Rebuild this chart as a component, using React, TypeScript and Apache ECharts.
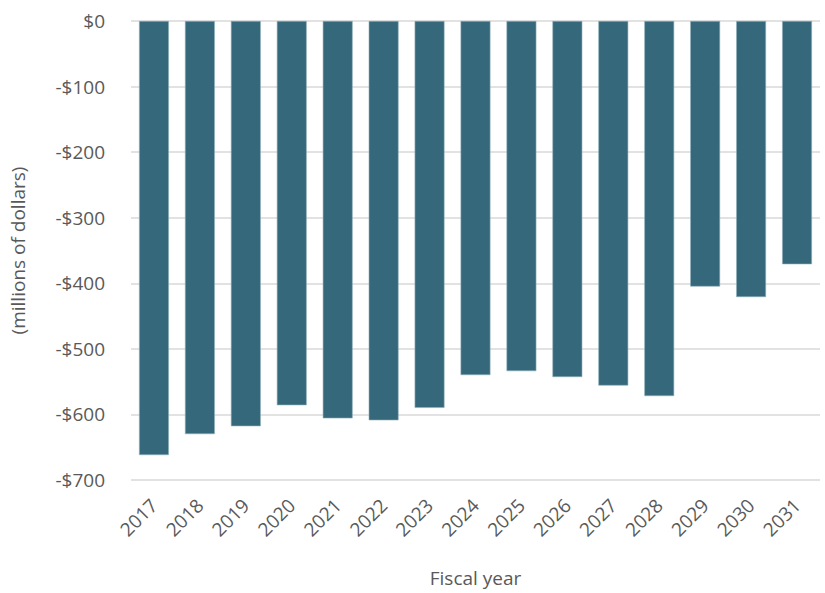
import React, { useEffect, useRef } from "react";
import * as echarts from "echarts";

const years = ["2017", "2018", "2019", "2020", "2021", "2022", "2023", "2024", "2025", "2026", "2027", "2028", "2029", "2030", "2031"];
const values = [-662, -630, -618, -586, -606, -609, -590, -540, -534, -543, -556, -572, -405, -421, -371];

const FONT = "'Open Sans', 'Noto Sans', sans-serif";
const TEXT = "#595959";

function money(v: number): string {
  return v < 0 ? `-$${-v}` : `$${v}`;
}

export default function App() {
  const ref = useRef<HTMLDivElement>(null);

  useEffect(() => {
    if (!ref.current) return;
    const chart = echarts.init(ref.current, null, { renderer: "svg" });
    chart.setOption({
      animation: false,
      backgroundColor: "#ffffff",
      grid: { left: 125, right: 5, top: 21, bottom: 113, containLabel: false },
      xAxis: {
        type: "category",
        data: years,
        position: "bottom",
        axisLine: { show: false },
        axisTick: { show: false },
        axisLabel: {
          rotate: 45,
          color: TEXT,
          fontFamily: FONT,
          fontSize: 19,
          margin: 22,
        },
        name: "Fiscal year",
        nameLocation: "middle",
        nameGap: 88,
        nameTextStyle: { color: TEXT, fontFamily: FONT, fontSize: 19 },
      },
      yAxis: {
        type: "value",
        min: -700,
        max: 0,
        interval: 100,
        axisLine: { show: false },
        axisTick: { show: false },
        splitLine: { lineStyle: { color: "#d9d9d9", width: 1.5 } },
        axisLabel: {
          color: TEXT,
          fontFamily: FONT,
          fontSize: 19,
          margin: 26,
          formatter: (v: number) => money(v),
        },
        name: "(millions of dollars)",
        nameLocation: "middle",
        nameGap: 104,
        nameRotate: 90,
        nameTextStyle: { color: TEXT, fontFamily: FONT, fontSize: 19 },
      },
      series: [
        {
          type: "bar",
          data: values,
          barCategoryGap: "35%",
          itemStyle: { color: "#35687a", borderColor: "#8fb0ba", borderWidth: 0.6 },
        },
      ],
    });
    return () => chart.dispose();
  }, []);

  return <div ref={ref} style={{ width: 825, height: 593, position: "absolute", left: 0, top: 0 }} />;
}
